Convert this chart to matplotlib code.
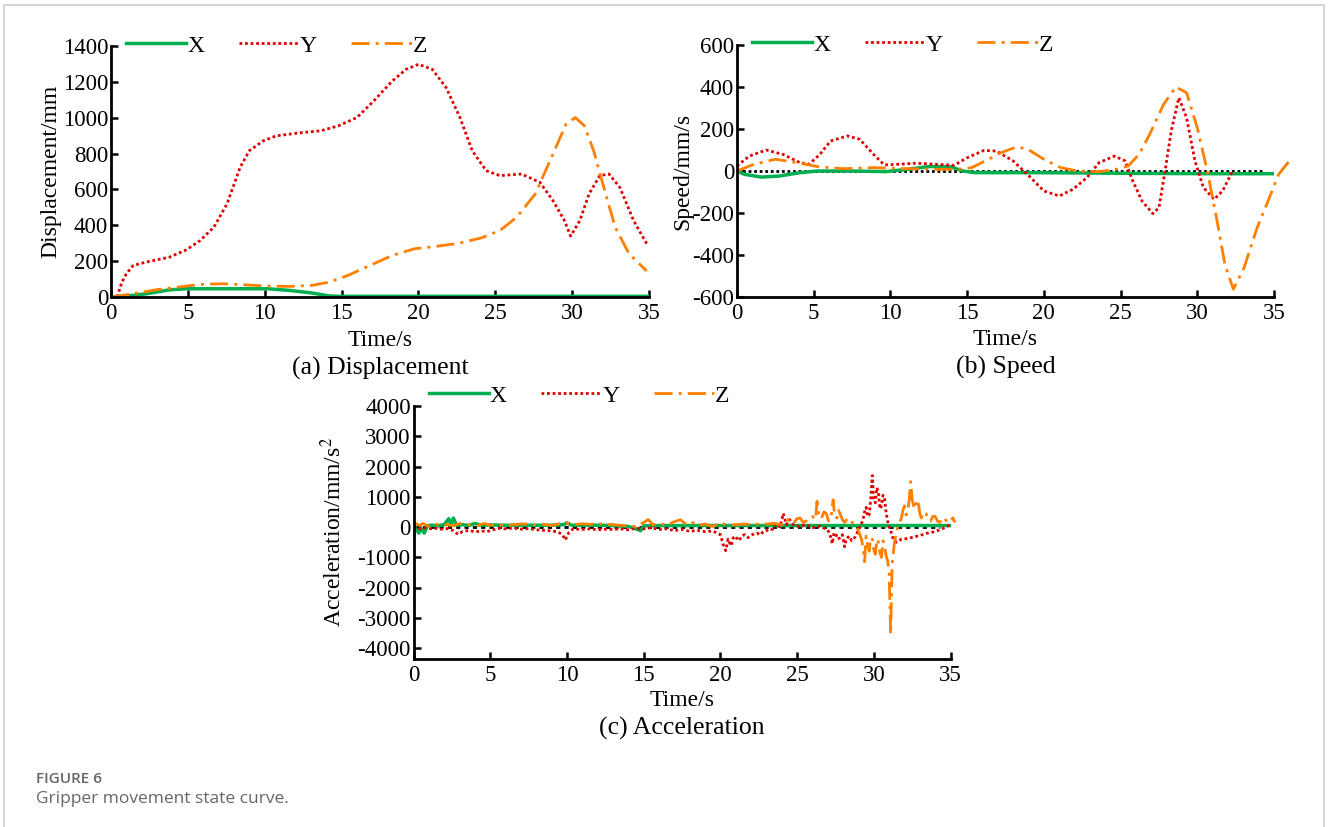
import numpy as np
import matplotlib
matplotlib.use('Agg')
import matplotlib.pyplot as plt
from matplotlib.lines import Line2D

plt.rcParams['font.family'] = 'Liberation Serif'
plt.rcParams['mathtext.fontset'] = 'stix'
plt.rcParams['axes.unicode_minus'] = False

# -- (a) displacement --
disp_t_x = [0, 1.45, 2.3, 3.8, 4.9, 7.3, 10.2, 11.6, 13.1, 14.2, 14.8, 20, 25, 30, 35]
disp_x = [0, 9, 18, 40, 46, 46, 46, 37, 22, 6, 4, 4, 4, 4, 4]
disp_t_y = [0.4, 0.7, 1.0, 1.45, 2.3, 3.8, 4.9, 5.8, 6.7, 7.55, 8.4, 9.0, 9.9, 10.75,
            12.5, 13.65, 14.8, 16.0, 17.1, 18.3, 19.2, 20.0, 20.9, 21.8, 22.7, 23.5,
            24.4, 25.3, 26.7, 27.9, 28.75, 29.5, 29.9, 30.5, 31.1, 31.8, 32.4, 33.1,
            34.0, 34.85]
disp_y = [0, 80, 130, 176, 195, 222, 263, 315, 390, 520, 723, 816, 871, 899,
          918, 927, 955, 1001, 1094, 1205, 1270, 1298, 1270, 1168, 1001, 816,
          705, 677, 686, 640, 538, 426, 340, 426, 575, 677, 686, 612,
          426, 297]
disp_t_z = [0, 1.45, 2.9, 4.36, 5.8, 7.26, 8.7, 10.2, 11.6, 13.1, 14.2, 15.4, 16.85,
            18.3, 19.75, 21.2, 22.65, 24.1, 25.3, 26.4, 27.6, 28.75, 29.6, 30.2,
            30.8, 31.4, 32.0, 32.8, 33.7, 34.85]
disp_z = [0, 18, 40, 55, 70, 74, 68, 61, 59, 65, 83, 120, 176,
          232, 269, 283, 300, 330, 371, 445, 575, 797, 964, 1001,
          955, 816, 630, 389, 241, 145]

# -- (b) speed --
spd_t_x = [0, 0.5, 1.6, 2.75, 4.1, 5.25, 7.5, 9.7, 11.1, 12.5, 13.9, 14.7, 15.5,
           20, 25.5, 31, 34.9]
spd_x = [0, -16, -29, -24, -8, 0, 0, -3, 8, 21, 21, 0, -8,
         -8, -11, -13, -13]
spd_t_y = [0, 0.8, 1.9, 3.0, 4.1, 4.7, 5.4, 6.1, 7.2, 8.0, 8.9, 9.6, 10.5, 11.65,
           13.0, 14.15, 15.0, 16.1, 16.9, 18.0, 19.15, 20.0, 21.0, 21.9, 22.8,
           23.6, 24.6, 25.3, 25.8, 26.4, 27.1, 27.5, 27.9, 28.3, 28.8, 29.3,
           29.85, 30.4, 31.1, 31.65, 32.3]
spd_y = [24, 71, 100, 79, 40, 32, 79, 143, 167, 151, 79, 29, 32, 37,
         32, 27, 63, 98, 95, 48, -32, -95, -119, -87, -32,
         40, 71, 48, -48, -143, -203, -175, 0, 190, 349, 254,
         48, -79, -135, -95, 0]
spd_t_z = [0, 1.1, 2.5, 3.9, 5.25, 6.9, 8.9, 11.1, 13.0, 14.4, 15.3, 16.4, 17.2,
           18.2, 18.9, 20.0, 21.1, 22.2, 23.6, 24.7, 25.5, 26.2, 26.9, 27.8,
           28.6, 29.3, 30.0, 30.7, 31.25, 31.8, 32.35, 33.05, 33.9, 34.7, 35.3, 36.0]
spd_z = [0, 32, 56, 40, 21, 11, 16, 11, 8, 8, 16, 56, 87,
         114, 106, 56, 16, 0, -3, 8, 24, 79, 175, 317,
         400, 373, 206, -16, -222, -444, -563, -460, -270, -127, -16, 48]
zero_t = [0, 34.3]
zero_v = [0, 0]

# -- (c) acceleration --
acc_t_x = [0, 0.2, 0.35, 0.5, 0.7, 0.9, 1.2, 1.6, 2.0, 2.3, 2.45, 2.6, 2.8, 3.2,
           3.6, 4.0, 4.4, 5.0, 6.0, 7.0, 8.0, 9.0, 9.8, 10.0, 10.3, 11.0, 12.0,
           13.0, 14.0, 14.5, 14.8, 15.0, 16.0, 20.0, 25.0, 30.0, 35.0]
acc_x = [100, -100, -200, -50, -200, 50, 60, 40, 80, 280, 50, 300, 60, 80,
         50, 120, 60, 70, 60, 60, 60, 60, 80, 140, 60, 60, 60,
         50, 20, -60, -120, 40, 50, 50, 50, 50, 50]
acc_t_y = [0.0, 0.3, 0.6, 1.0, 1.4, 1.8, 2.2, 2.6, 2.9, 3.2, 3.6, 4.0, 4.4, 4.8,
           5.2, 5.6, 6.0, 6.5, 7.0, 7.5, 8.0, 8.5, 9.0, 9.4, 9.7, 9.9, 10.1,
           10.4, 11.0, 11.5, 12.0, 12.5, 13.0, 13.5, 14.0, 14.5, 15.0, 15.5,
           16.0, 16.5, 17.0, 17.5, 18.0, 18.5, 19.0, 19.5, 20.0, 20.2, 20.35,
           20.5, 20.6, 20.7, 20.85, 21.0, 21.15, 21.3, 21.45, 21.6, 21.8, 22.0,
           22.2, 22.4, 22.6, 22.8, 23.0, 23.2, 23.4, 23.6, 23.9,
           24.1, 24.3, 24.5, 24.8, 25.2, 25.6, 26.0, 26.5, 26.8, 27.0, 27.15,
           27.3, 27.4, 27.5, 27.65, 27.8, 27.95, 28.1, 28.2, 28.4, 28.55, 28.7,
           28.85, 29.0, 29.15, 29.3, 29.4, 29.5, 29.6, 29.7, 29.8, 29.9, 30.0,
           30.1, 30.2, 30.3, 30.4, 30.5, 30.6, 30.7, 30.8, 30.9, 31.0, 31.1,
           31.2, 31.3, 31.5, 31.8, 32.2, 32.6, 33.0, 33.5, 34.0, 34.5, 35.0]
acc_y = [0, -80, -20, -60, -40, -70, -50, -120, -240, -150, -110, -160, -130, -150,
         -90, -40, -60, -30, -70, -50, -90, -110, -130, -160, -250, -430, -200,
         -60, -80, -60, -90, -70, -80, -60, -90, -40, -60, -20,
         -80, -60, -120, -80, -140, -110, -150, -130, -250, -600, -780,
         -400, -520, -620, -350, -300, -450, -380, -280, -250, -350, -280,
         -220, -200, -260, -150, -120, -50, -80, 100, 0,
         450, 80, 250, 50, 20, 80, -20, 30, -50, -100, -250,
         -550, -200, -200, -400, -350, -250, -650, -400, -300, -450, -400,
         -250, -100, 50, 250, 500, 650, 350, 400, 900, 1700, 900,
         800, 1300, 1150, 600, 700, 1050, 950, 500, 200, 0, -100,
         -300, -450, -500, -400, -380, -330, -280, -200, -150, -50, 80]
acc_t_z = [0.0, 0.2, 0.4, 0.6, 1.0, 1.4, 1.8, 2.2, 2.6, 3.0, 3.4, 3.8, 4.2, 4.6,
           5.0, 5.5, 6.0, 6.5, 7.0, 7.5, 8.0, 8.5, 9.0, 9.5, 10.0, 10.5, 11.0,
           11.5, 12.0, 12.5, 13.0, 13.5, 14.0, 14.5, 15.0, 15.3, 15.6, 16.0,
           16.5, 17.0, 17.4, 17.8, 18.2, 18.6, 19.0, 19.5, 20.0, 20.5, 21.0,
           21.5, 22.0, 22.5, 23.0, 23.5, 24.0, 24.2, 24.4, 24.6, 24.8, 25.0,
           25.2, 25.4, 25.6, 25.8, 26.0, 26.2, 26.3, 26.45, 26.6, 26.75, 26.9,
           27.05, 27.2, 27.35, 27.45, 27.6, 27.7, 27.8, 27.95, 28.1, 28.3, 28.5,
           28.7, 28.9, 29.05, 29.2, 29.3, 29.4, 29.5, 29.6, 29.7, 29.8, 29.9,
           30.0, 30.1, 30.2, 30.3, 30.4, 30.5, 30.6, 30.7, 30.8, 30.9, 31.0,
           31.1, 31.2, 31.35, 31.5, 31.65, 31.8, 31.9, 32.0, 32.1, 32.2, 32.3,
           32.4, 32.5, 32.6, 32.7, 32.8, 32.9, 33.0, 33.1, 33.25, 33.4, 33.55,
           33.7, 33.85, 34.0, 34.15, 34.3, 34.45, 34.6, 34.8, 35.0, 35.15, 35.3]
acc_z = [150, 100, 50, 120, 30, 100, 60, 80, 40, 120, 60, 100, 50, 120,
         60, 90, 40, 80, 100, 100, 60, 90, 50, 110, 130, 80, 110,
         90, 100, 100, 80, 60, 30, 20, 150, 250, 80, 120,
         60, 180, 240, 80, 150, 60, 100, 20, 140, 60, 80,
         100, 90, 100, 100, 120, 80, 200, 250, 120, 150, 280,
         300, 150, 200, 320, 350, 250, 850, 300, 300, 500, 450,
         200, 250, 900, 350, 300, 550, 450, 250, 150, 300, 200,
         100, 0, -200, -400, -700, -1150, -300, -600, -800, -350, -400,
         -750, -900, -400, -500, -850, -1000, -450, -600, -950, -1100, -1500,
         -3550, -1200, -500, -100, 100, 300, 550, 700, 400, 500, 850,
         1500, 900, 700, 600, 900, 800, 450, 300, 500, 450, 250,
         200, 350, 350, 200, 150, 300, 300, 150, 200, 300, 150]

GREEN = '#00b050'
RED = '#e00000'
ORANGE = '#ff8000'
Z_DASH = (6.5, 2.2, 1.1, 2.2)
Y_DASH = (1, 1)
W, H = 1328., 827.
FS_TICK = 16.5
FS_LAB = 17
FS_CAP = 18.5


def style_axes(ax, xlim, ylim, yticks):
    for s in ['top', 'right']:
        ax.spines[s].set_visible(False)
    for s in ['left', 'bottom']:
        ax.spines[s].set_linewidth(2)
    ax.set_xlim(xlim)
    ax.set_ylim(ylim)
    ax.set_xticks(np.arange(0, 36, 5))
    ax.set_yticks(yticks)
    ax.tick_params(direction='in', length=5, width=1.8, labelsize=FS_TICK)
    ax.tick_params(axis='y', pad=2)
    ax.tick_params(axis='x', pad=4)


def add_legend(ax, y):
    h = [Line2D([], [], color=GREEN, lw=2.5),
         Line2D([], [], color=RED, lw=2, dashes=Y_DASH),
         Line2D([], [], color=ORANGE, lw=2, dashes=Z_DASH)]
    ax.legend(h, ['X', 'Y', 'Z'], ncol=3, loc='center left', bbox_to_anchor=(0.028, y),
              frameon=False, fontsize=FS_LAB, handlelength=2.55, handletextpad=0.05,
              columnspacing=1.45, borderpad=0, borderaxespad=0)


fig = plt.figure(figsize=(13.28, 8.27), dpi=100)

# (a)
ax = fig.add_axes([111/W, 1-297/H, 538/W, 251/H])
ax.plot(disp_t_x, disp_x, color=GREEN, lw=2.5)
ax.plot(disp_t_y, disp_y, color=RED, lw=2, dashes=Y_DASH)
ax.plot(disp_t_z, disp_z, color=ORANGE, lw=2, dashes=Z_DASH, clip_on=False)
style_axes(ax, (0, 35), (0, 1400), np.arange(0, 1401, 200))
ax.set_xlabel('Time/s', fontsize=FS_LAB, labelpad=5)
ax.set_ylabel('Displacement/mm', fontsize=FS_LAB, labelpad=1)
ax.text(0.5, -0.286, '(a) Displacement', transform=ax.transAxes, ha='center', va='center', fontsize=FS_CAP)
add_legend(ax, 1.0)

# (b)
ax = fig.add_axes([737/W, 1-297/H, 537/W, 252/H])
ax.plot(zero_t, zero_v, color='k', lw=2, dashes=(1, 1))
ax.plot(spd_t_x, spd_x, color=GREEN, lw=2.5)
ax.plot(spd_t_y, spd_y, color=RED, lw=2, dashes=Y_DASH)
ax.plot(spd_t_z, spd_z, color=ORANGE, lw=2, dashes=Z_DASH, clip_on=False)
style_axes(ax, (0, 35), (-600, 600), np.arange(-600, 601, 200))
ax.set_xlabel('Time/s', fontsize=FS_LAB, labelpad=4)
ax.set_ylabel('Speed/mm/s', fontsize=FS_LAB, labelpad=-1)
ax.text(0.5, -0.278, '(b) Speed', transform=ax.transAxes, ha='center', va='center', fontsize=FS_CAP)
add_legend(ax, 1.0)

# (c)
ax = fig.add_axes([413.5/W, 1-659/H, 537/W, 253/H])
ax.plot(zero_t, zero_v, color='k', lw=2, dashes=(1.5, 1.5))
ax.plot(acc_t_x, acc_x, color=GREEN, lw=2.5)
ax.plot(acc_t_y, acc_y, color=RED, lw=2, dashes=Y_DASH)
ax.plot(acc_t_z, acc_z, color=ORANGE, lw=2, dashes=Z_DASH, clip_on=False)
style_axes(ax, (0, 35), (-4360, 4000), np.arange(-4000, 4001, 1000))
ax.set_xlabel('Time/s', fontsize=FS_LAB, labelpad=3)
ax.set_ylabel('Acceleration/mm/s$^2$', fontsize=FS_LAB, labelpad=8)
ax.text(0.5, -0.276, '(c) Acceleration', transform=ax.transAxes, ha='center', va='center', fontsize=FS_CAP)
add_legend(ax, 1.04)

# frame and caption
fig.add_artist(Line2D([4/W, 4/W, 1324/W, 1324/W], [0, 1-5/H, 1-5/H, 0],
                      transform=fig.transFigure, color='#cccccc', lw=1.2))
fig.text(36/W, 1-783/H, 'FIGURE 6', fontsize=11, color='#666666',
         family='Open Sans', fontweight='semibold', va='baseline')
fig.text(36/W, 1-803/H, 'Gripper movement state curve.', fontsize=12.5, color='#666666',
         family='Open Sans', va='baseline')

fig.savefig('out.png', dpi=100)
plt.close()
